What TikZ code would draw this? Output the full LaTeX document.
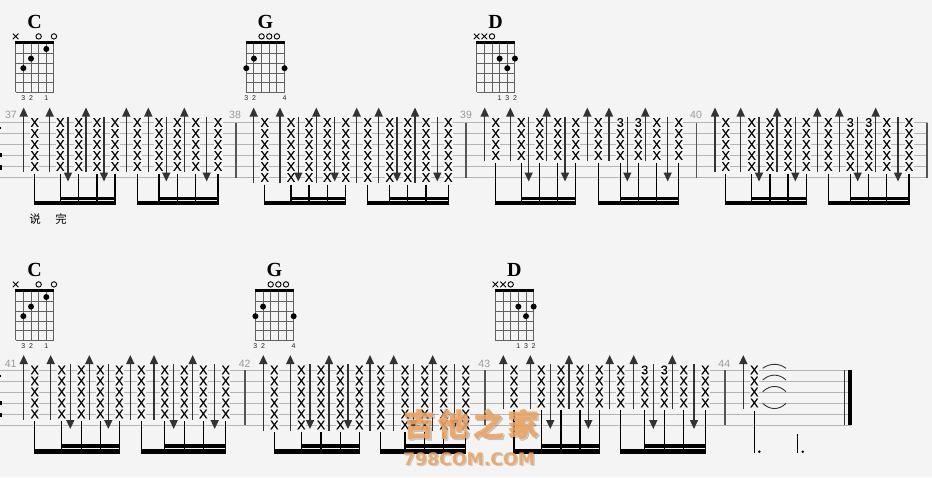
\documentclass[tikz,border=0pt]{standalone}
\usepackage{fontspec}
\usetikzlibrary{arrows.meta}
\setmainfont{Liberation Serif}
\setsansfont{Liberation Sans}
\newfontfamily\cjk{Noto Sans CJK SC}
\newfontfamily\cjkwm[LetterSpace=12,FakeBold=1.5]{Noto Sans CJK SC}
\newfontfamily\wmlat{DejaVu Sans}
\newfontfamily\notefont[FakeBold=0.25]{Liberation Sans}
\definecolor{bgc}{HTML}{F4F4F4}
\definecolor{staffc}{HTML}{B4B4B4}
\definecolor{barc}{HTML}{555555}
\definecolor{numc}{HTML}{999999}
\definecolor{wmc}{HTML}{EDA565}
\tikzset{
  x=1pt,y=-1pt,
  staffline/.style={draw=staffc,line width=0.9pt},
  barline/.style={draw=barc,line width=1.4pt},
  numlabel/.style={text=numc,font=\sffamily\fontsize{10.5}{10.5}\selectfont,inner sep=0pt},
  noteX/.style={fill=bgc,inner sep=0.3pt,font=\notefont\fontsize{12.6}{12.6}\selectfont},
  upstroke/.style={draw=black!80,line width=1.5pt,-{Triangle[length=9pt,width=8pt]}},
  stem/.style={draw=black,line width=1.2pt},
  gridline/.style={draw=black!62,line width=1pt},
  chordname/.style={font=\bfseries\fontsize{20}{20}\selectfont,inner sep=0pt},
  fingerlabel/.style={font=\sffamily\fontsize{7}{7}\selectfont,inner sep=0pt,text=black!85},
  lyric/.style={font=\cjk\fontsize{11.5}{11.5}\selectfont,inner sep=0pt},
  wmark/.style={inner sep=0pt,text=wmc,text opacity=.88},
  wshadow/.style={inner sep=0pt,text=black,text opacity=.16},
  tie/.style={draw=black!80,line width=0.9pt}
}
% #1 staff top y, #2 strings, #3 five x, #4 ups, #5 downs, #6 x's that show a 3, #7 primary beam height, #8 second beam height
\newcommand\tabgroup[8]{%
  \pgfmathsetmacro\lasty{#1+11*(#2-1)}%
  \foreach \nx in {#3}{%
    \foreach \si in {1,...,#2}{%
      \pgfmathsetmacro\ny{#1+11*(\si-1)}%
      \gdef\glyph{X}%
      \ifnum\si=1 \foreach \tx in {#6}{\ifdim\tx pt=\nx pt \gdef\glyph{3}\fi}\fi
      \node[noteX] at (\nx,\ny) {\glyph};%
    }%
    \draw[stem] (\nx,\lasty+7) -- (\nx,#1+79.5);%
  }%
  \foreach \ux in {#4}{\draw[upstroke] (\ux,\lasty+5.5) -- (\ux,#1-15);}%
  \foreach \dx in {#5}{\draw[upstroke] (\dx,#1-6) -- (\dx,#1+59);}%
  \gdef\xa{0}\gdef\xb{0}\gdef\xe{0}%
  \foreach \nx [count=\ni] in {#3}{%
    \ifnum\ni=1 \xdef\xa{\nx}\fi
    \ifnum\ni=2 \xdef\xb{\nx}\fi
    \ifnum\ni=5 \xdef\xe{\nx}\fi
  }%
  \fill (\xa-.6,#1+78.8) rectangle (\xe+.6,#1+78.8+#7);%
  \fill (\xb-.6,#1+74) rectangle (\xe+.6,#1+74+#8);%
}
% #1 left x, #2 y shift, #3 name, #4 marks idx/(0 circle,1 cross), #5 dots idx/fret, #6 fingers idx/label
\newcommand\chordbox[6]{%
  \begin{scope}[shift={(#1,#2)}]
    \foreach \si in {0,...,5}{\draw[gridline] (\si*7.65,43) -- (\si*7.65,92.3);}
    \foreach \fr in {1,...,5}{\draw[gridline] (0,44.3+\fr*9.6) -- (38.25,44.3+\fr*9.6);}
    \fill (-.5,41.4) rectangle (38.7,44.4);
    \node[chordname] at (19,22) {#3};
    \foreach \mi/\mk in {#4}{%
      \ifnum\mk=0 \draw[line width=.9pt] (\mi*7.65,36.4) circle (2.7);
      \else \draw[line width=.9pt] (\mi*7.65-2.8,33.6) -- +(5.6,5.6) (\mi*7.65+2.8,33.6) -- +(-5.6,5.6);\fi
    }
    \foreach \di/\df in {#5}{\fill (\di*7.65,49+\df*9.6) circle (3);}
    \foreach \ci/\cl in {#6}{\node[fingerlabel] at (\ci*7.65,97.7) {\cl};}
  \end{scope}%
}
\newcommand\topgroup[5]{\tabgroup{122.5}{#1}{#2}{#3}{#4}{#5}{3.9}{3}}
\newcommand\lowgroup[5]{\tabgroup{370}{#1}{#2}{#3}{#4}{#5}{4.8}{3.9}}
\begin{document}
\begin{tikzpicture}
\useasboundingbox (0,0) rectangle (932,477);
\fill[bgc] (0,0) rectangle (932,477);
% staves
\foreach \si in {0,...,5}{
  \draw[staffline] (0,122.5+11*\si) -- (927.5,122.5+11*\si);
  \draw[staffline] (0,370+11*\si) -- (851,370+11*\si);
}
% cut-off clef marks
\fill (0,127) rectangle (1.2,129);
\fill (0,153) rectangle (1.5,157);
\fill (0,165) rectangle (1.5,170);
\fill (0,374.5) rectangle (1.2,376.5);
\fill (0,401) rectangle (1.5,405);
\fill (0,413) rectangle (1.5,417);
% bars
\foreach \bx in {236,466,696.7,927}{\draw[barline] (\bx,122.5) -- (\bx,177.5);}
\foreach \bx in {245,485,725}{\draw[barline] (\bx,370) -- (\bx,425);}
% numbers
\node[numlabel] (n37) at (11,115.3) {37};
\node[numlabel] (n38) at (235,115.3) {38};
\node[numlabel] (n39) at (466,115.3) {39};
\node[numlabel] (n40) at (696,115.3) {40};
\node[numlabel] (n41) at (10.7,363.7) {41};
\node[numlabel] (n42) at (244.7,363.7) {42};
\node[numlabel] (n43) at (484.3,363.7) {43};
\node[numlabel] (n44) at (724.3,363.7) {44};
% chords
\chordbox{15.7}{0}{C}{0/1,3/0,5/0}{4/0,2/1,1/2}{1/3,2/2,4/1}
\chordbox{246.3}{0}{G}{2/0,3/0,4/0}{1/1,0/2,5/2}{0/3,1/2,5/4}
\chordbox{476.7}{0}{D}{0/1,1/1,2/0}{3/1,5/1,4/2}{3/1,4/3,5/2}
\chordbox{15.7}{248}{C}{0/1,3/0,5/0}{4/0,2/1,1/2}{1/3,2/2,4/1}
\chordbox{255.4}{248}{G}{2/0,3/0,4/0}{1/1,0/2,5/2}{0/3,1/2,5/4}
\chordbox{495.4}{248}{D}{0/1,1/1,2/0}{3/1,5/1,4/2}{3/1,4/3,5/2}
% top row
\topgroup{5}{34.7,60.3,78.7,97,115}{23.7,49.7,86}{68,104}{-1}
\topgroup{5}{137.3,159,177.3,195.7,218}{126.3,148.3,184.3}{166.3,206.7}{-1}
\topgroup{6}{264.7,291,309,327.3,345.7}{253.7,280,316.3}{298.3,334.7}{-1}
\topgroup{6}{367.7,389.7,407.7,426,448.3}{356.7,378.7,415}{397,437.3}{-1}
\topgroup{4}{495.7,521.3,539.7,557.7,575.7}{484.7,510.3,546.7}{528.7,565}{-1}
\topgroup{4}{598.3,620.3,638.3,656.7,678.7}{587.3,609,645.3}{627.3,667.7}{620.3,638.3}
\topgroup{5}{725.7,751.7,770,788,806.3}{715,740.7,777}{759,795.3}{-1}
\topgroup{5}{828.3,850.3,868.7,886.7,909}{817.3,839.3,875.7}{857.7,898}{850.3,868.7}
% lyrics
\node[lyric] (ly1) at (35,219) {说};
\node[lyric] (ly2) at (61,219) {完};
% bottom row
\lowgroup{5}{34.7,61.7,81.3,100.3,119.3}{23.7,50.7,89.3}{70.3,108.3}{-1}
\lowgroup{5}{141.3,164.7,184.3,203.3,225.7}{130.3,154,192.7}{173.7,214.7}{-1}
\lowgroup{6}{274.3,301.3,321,340.3,359.3}{263.3,290.3,329}{310,348}{-1}
\lowgroup{6}{380.7,405,424.7,443.7,465.7}{370,393.7,432.7}{413.3,454.3}{-1}
\lowgroup{4}{514,541.3,561,580,599.3}{503.3,530.3,569}{550.3,588.3}{-1}
\lowgroup{4}{620.7,644.7,664.3,683.7,705.3}{609.7,633.7,672.3}{653.3,694}{644.7,664.3}
% last measure
\foreach \si in {0,...,3}{\node[noteX] at (754.3,370+11*\si) {X};}
\draw[upstroke] (743.3,408.5) -- (743.3,355);
\draw[stem] (754.3,411) -- (754.3,453.3);
\draw[stem] (797.3,434.3) -- (797.3,453.3);
\fill (759.3,451.7) circle (1.4);
\fill (802.7,451.7) circle (1.4);
\draw[tie] (762.7,368.3) .. controls (770,363) and (779,363) .. (786,368.3);
\draw[tie] (762.7,380) .. controls (770,373.5) and (779,373.5) .. (786,380);
\draw[tie] (762.7,391.7) .. controls (770,384.7) and (779,384.7) .. (786,391.7);
\draw[tie] (762.7,403.3) .. controls (770,410.3) and (779,410.3) .. (786,403.3);
% final bar
\draw[draw=black!80,line width=1pt] (844.3,370) -- (844.3,425);
\fill[black] (848,370) rectangle (851.7,425);
% watermark
\node[wshadow,font=\cjkwm\bfseries\fontsize{31}{31}\selectfont] (ws1) at (472.5,425.5) {吉他之家};
\node[wshadow,font=\wmlat\bfseries\fontsize{17.3}{17.3}\selectfont] (ws2) at (470.5,460.5) {798COM.COM};
\node[wmark,font=\cjkwm\bfseries\fontsize{31}{31}\selectfont] (w1) at (471,424) {吉他之家};
\node[wmark,font=\wmlat\bfseries\fontsize{17.3}{17.3}\selectfont] (w2) at (469,459) {798COM.COM};
\end{tikzpicture}
\end{document}
